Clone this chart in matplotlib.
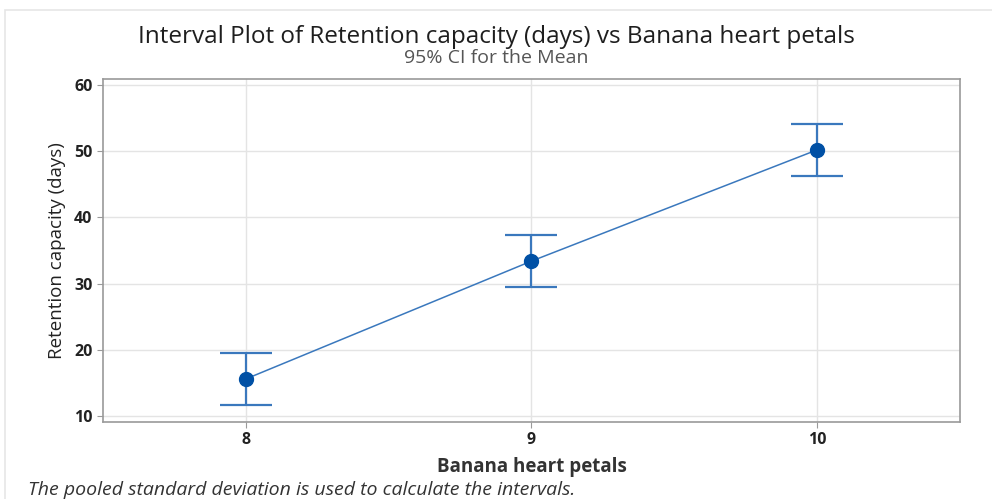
import numpy as np
import matplotlib.pyplot as plt
from matplotlib.patches import Rectangle

plt.rcParams['font.family'] = ['Open Sans', 'DejaVu Sans']

petals = [8, 9, 10]
means = [15.6, 33.4, 50.2]
ci_low = [11.7, 29.5, 46.3]
ci_high = [19.5, 37.3, 54.1]

fig = plt.figure(figsize=(9.92, 4.99), dpi=100)
ax = fig.add_axes([103/992, 1 - 422/499, 857/992, 343/499])

# outer frame of the output window
fig.patches.append(Rectangle((5/992, -0.01), 1.0, 1 - 10/499 + 0.01, transform=fig.transFigure,
                             fill=False, edgecolor='#e6e6e6', linewidth=1.2))

m = np.array(means)
err = [m - np.array(ci_low), np.array(ci_high) - m]
ax.errorbar(petals, means, yerr=err, fmt='none', ecolor='#3a78bd', elinewidth=1.6,
            capsize=19, capthick=1.6, zorder=3)
ax.plot(petals, means, color='#3a78bd', linewidth=1.1, zorder=3)
ax.plot(petals, means, 'o', color='#0050a5', markersize=10, zorder=4)

ax.set_xlim(7.5, 10.5)
ax.set_ylim(9.1, 60.9)
ax.set_xticks(petals)
ax.set_yticks(np.arange(10, 61, 10))
ax.grid(True, color='#e4e4e4', linewidth=1)
ax.set_axisbelow(True)
for s in ax.spines.values():
    s.set_color('#9a9a9a')
    s.set_linewidth(1.2)
ax.tick_params(colors='#9a9a9a', labelcolor='#222222', labelsize=11.5, length=4)
for lab in ax.get_xticklabels() + ax.get_yticklabels():
    lab.set_fontweight('bold')

ax.set_xlabel('Banana heart petals', fontsize=13.5, fontweight='bold', color='#333333', labelpad=6)
ax.set_ylabel('Retention capacity (days)', fontsize=13.5, color='#222222', labelpad=6)

fig.text(0.5, 1 - 37/499, 'Interval Plot of Retention capacity (days) vs Banana heart petals',
         ha='center', va='center', fontsize=17.5, color='#1e1e1e')
fig.text(0.5, 1 - 58/499, '95% CI for the Mean', ha='center', va='center',
         fontsize=14, color='#555555')
fig.text(28/992, 1 - 490/499, 'The pooled standard deviation is used to calculate the intervals.',
         ha='left', va='center', fontsize=14, style='italic', color='#333333')

plt.savefig('out.png', dpi=100)
